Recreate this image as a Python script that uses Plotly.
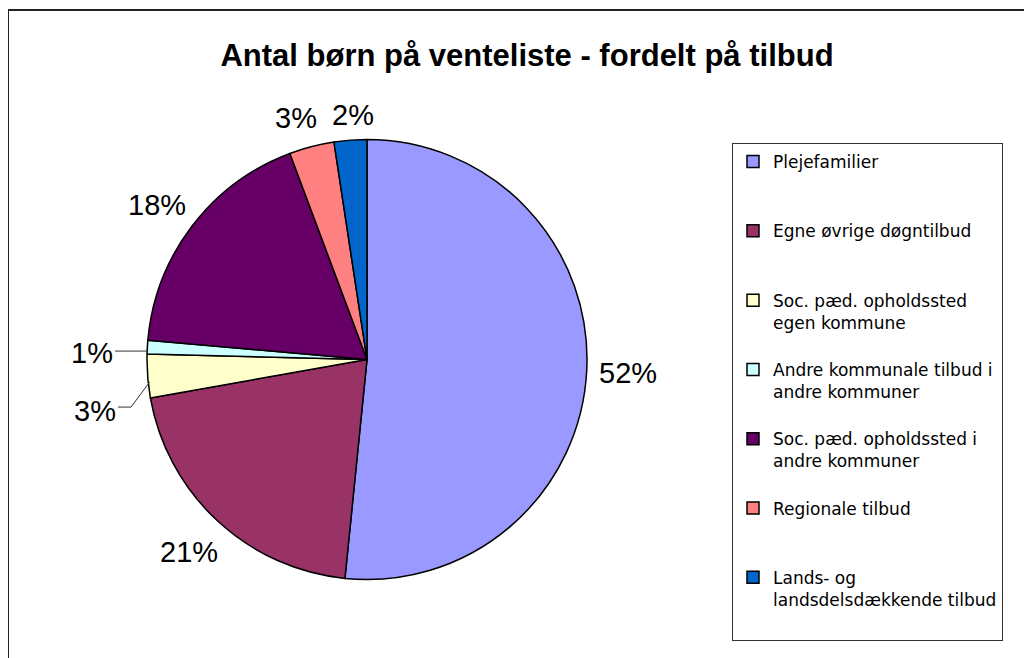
import math
import plotly.graph_objects as go

# ---- data ----
categories = [
    "Plejefamilier",
    "Egne øvrige døgntilbud",
    "Soc. pæd. opholdssted<br>egen kommune",
    "Andre kommunale tilbud i<br>andre kommuner",
    "Soc. pæd. opholdssted i<br>andre kommuner",
    "Regionale tilbud",
    "Lands- og<br>landsdelsdækkende tilbud",
]
values = [51.6, 20.6, 3.2, 1.0, 17.9, 3.3, 2.4]
colors = ["#9999FF", "#993366", "#FFFFCC", "#CCFFFF", "#660066", "#FF8080", "#0066CC"]
title_text = "Antal børn på venteliste - fordelt på tilbud"

# ---- layout geometry (screen pixels) ----
W, H = 1032, 658
OFF = 8  # page body margin of the browser
CX, CY, R = 367, 359.5, 220
FONT = "Liberation Sans, Arial, sans-serif"
LEGEND_FONT = "DejaVu Sans, Liberation Sans, Arial, sans-serif"
LABEL_SIZE = 29


def px(x):
    return (x - OFF) / W


def py(y):
    return 1 - (y - OFF) / H


# pad legend entries to an equal 3-line height
legend_labels = []
for c in categories:
    n = c.count("<br>") + 1
    legend_labels.append(c + "<br> " * (3 - n))

fig = go.Figure(
    go.Pie(
        labels=legend_labels,
        values=values,
        sort=False,
        direction="clockwise",
        rotation=0,
        marker=dict(colors=colors, line=dict(color="black", width=1.5)),
        textinfo="none",
        hoverinfo="skip",
        domain=dict(x=[px(CX - R), px(CX + R)], y=[py(CY + R), py(CY - R)]),
    )
)

# ---- percentage labels computed from the values ----
total = sum(values)
annotations = []
shapes = []
cum = 0.0
leader = {2: 35, 3: 6}  # slices labelled to the left with leader lines
nudge = {4: (0, 5), 5: (-7, 3), 6: (5, 3)}  # small label de-overlap offsets
for i, v in enumerate(values):
    a0 = cum / total * 360
    cum += v
    a1 = cum / total * 360
    mid = math.radians((a0 + a1) / 2)
    s, c = math.sin(mid), math.cos(mid)
    label = f"{round(v / total * 100)}%"
    if i in leader:
        ex, ey = CX + R * s, CY - R * c
        tx, ty = CX - R - 55, ey + leader[i]
        if i == 2:
            tx += 3
            path = (f"M{px(tx + 23)},{py(ty - 4)} L{px(tx + 36)},{py(ty - 4)} "
                    f"L{px(ex + 2)},{py(ey + 6)}")
        else:
            path = f"M{px(tx + 23)},{py(ey + 4)} L{px(ex)},{py(ey + 4)}"
        shapes.append(dict(type="path", path=path, xref="paper", yref="paper",
                           line=dict(color="#333333", width=1)))
    else:
        d = R + 12 + 29 * abs(s) + 14 * abs(c)
        tx, ty = CX + d * s, CY - d * c
        dx, dy = nudge.get(i, (0, 0))
        tx, ty = tx + dx, ty + dy
    annotations.append(dict(x=px(tx), y=py(ty), text=label, showarrow=False,
                            xref="paper", yref="paper", xanchor="center", yanchor="middle",
                            font=dict(size=LABEL_SIZE, family=FONT, color="black")))

# outer chart border
shapes.append(dict(type="rect", xref="paper", yref="paper",
                   x0=px(8), x1=1.2, y0=-0.2, y1=py(10),
                   line=dict(color="#222222", width=2)))

fig.update_layout(
    width=W, height=H,
    margin=dict(l=0, r=0, t=0, b=0),
    paper_bgcolor="white", plot_bgcolor="white",
    title=dict(text=f"<b>{title_text}</b>", x=px(527), y=py(55),
               xanchor="center", yanchor="middle",
               font=dict(size=31, family=FONT, color="black")),
    showlegend=True,
    legend=dict(x=px(732), y=py(143), xanchor="left", yanchor="top",
                bordercolor="#333333", borderwidth=1, bgcolor="white",
                font=dict(size=17, family=LEGEND_FONT, color="black"),
                valign="top", traceorder="normal"),
    annotations=annotations,
    shapes=shapes,
)

fig.write_html("out.html")
